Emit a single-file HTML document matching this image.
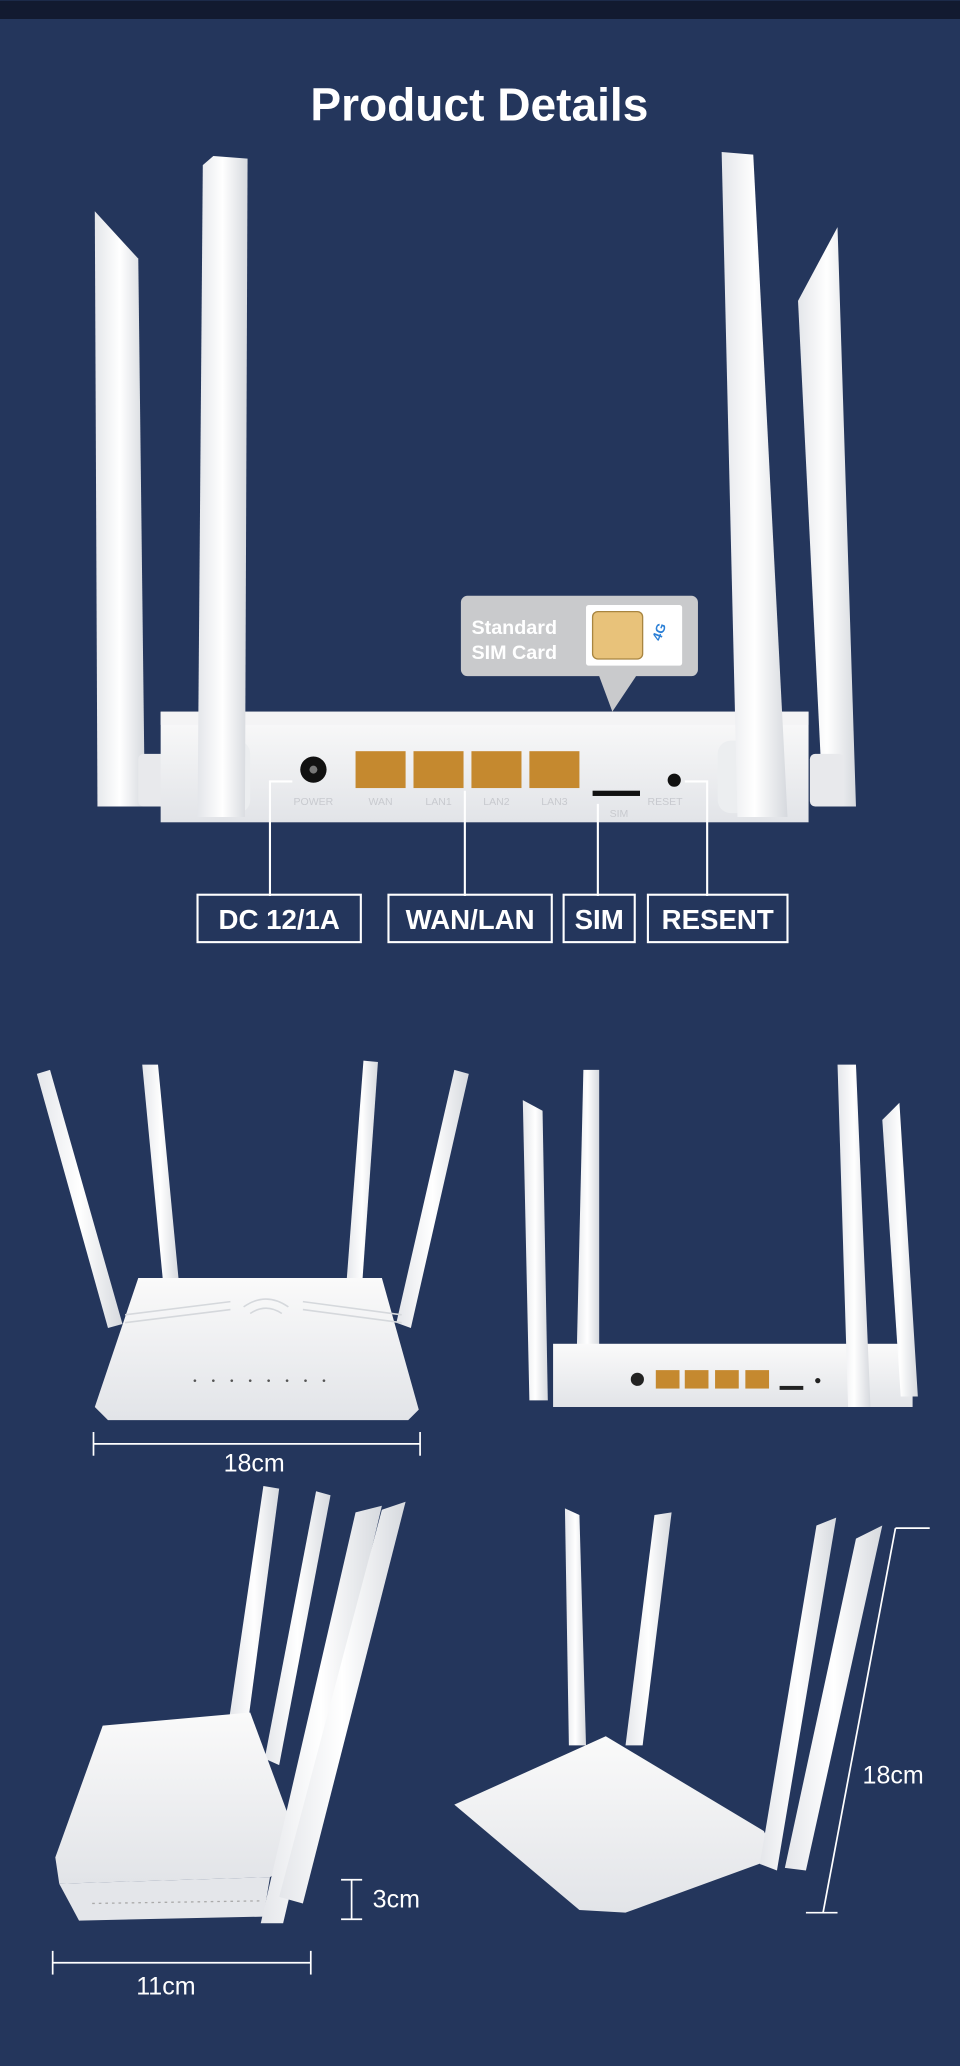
<!DOCTYPE html>
<html><head><meta charset="utf-8"><style>
html,body{margin:0;padding:0;background:#24365c;}
svg{display:block;}
text{font-family:"Liberation Sans",sans-serif;}
</style></head><body>
<svg width="960" height="2066" viewBox="0 0 729 1568" xmlns="http://www.w3.org/2000/svg">
<defs>
<linearGradient id="ant" x1="0" x2="1"><stop offset="0" stop-color="#e4e6ea"/><stop offset="0.5" stop-color="#ffffff"/><stop offset="1" stop-color="#d6d9de"/></linearGradient>
<linearGradient id="body" x1="0" y1="0" x2="0" y2="1"><stop offset="0" stop-color="#fafafa"/><stop offset="1" stop-color="#e2e4e8"/></linearGradient>
</defs>
<rect width="729" height="1568" fill="#24365c"/>
<rect width="729" height="14" fill="#121a30"/>
<text x="364" y="91" text-anchor="middle" font-size="35" font-weight="bold" fill="#fff">Product Details</text>

<!-- top router -->
<g>
<polygon points="72,160 105,196 110,612 74,612" fill="url(#ant)"/>
<rect x="105" y="572" width="24" height="40" rx="4" fill="#e8e9ec"/>
<rect x="122" y="540" width="492" height="84" fill="url(#body)"/>
<rect x="122" y="540" width="492" height="10" fill="#f4f4f5"/>
<rect x="160" y="562" width="30" height="55" rx="10" fill="#eceef0"/>
<rect x="545" y="562" width="30" height="55" rx="10" fill="#eceef0"/>
<polygon points="162,118 188,120 186,620 150,620 154,125" fill="url(#ant)"/>
<polygon points="606,228 636,172 650,612 625,612" fill="url(#ant)"/>
<rect x="615" y="572" width="26" height="40" rx="4" fill="#e8e9ec"/>
<polygon points="548,115 572,117 598,620 560,620" fill="url(#ant)"/>
<circle cx="238" cy="584" r="10" fill="#111"/>
<circle cx="238" cy="584" r="3" fill="#777"/>
<g fill="#c5892f"><rect x="270" y="570" width="38" height="28"/><rect x="314" y="570" width="38" height="28"/><rect x="358" y="570" width="38" height="28"/><rect x="402" y="570" width="38" height="28"/></g>
<g font-size="8" fill="#c8cacf" text-anchor="middle"><text x="238" y="611">POWER</text><text x="289" y="611">WAN</text><text x="333" y="611">LAN1</text><text x="377" y="611">LAN2</text><text x="421" y="611">LAN3</text><text x="505" y="611">RESET</text><text x="470" y="620">SIM</text></g>
<rect x="450" y="600" width="36" height="4" fill="#111"/>
<circle cx="512" cy="592" r="5" fill="#111"/>
<!-- callout -->
<path d="M355,452 H525 a5,5 0 0 1 5,5 V508 a5,5 0 0 1 -5,5 H483 L465,540 L455,513 H355 a5,5 0 0 1 -5,-5 V457 a5,5 0 0 1 5,-5 Z" fill="#c9cacc"/>
<text x="358" y="481" font-size="15" font-weight="bold" fill="#fff">Standard</text>
<text x="358" y="500" font-size="15" font-weight="bold" fill="#fff">SIM Card</text>
<rect x="445" y="459" width="73" height="46" fill="#fff" rx="2"/>
<rect x="450" y="464" width="38" height="36" rx="4" fill="#e8c27a" stroke="#a88540"/>
<text x="496" y="485" font-size="10" font-weight="bold" fill="#2a7fd6" transform="rotate(-70 500 482)">4G</text>
<!-- connectors -->
<g stroke="#fff" stroke-width="1.6" fill="none">
<polyline points="222,593 205,593 205,680"/>
<line x1="353" y1="600" x2="353" y2="680"/>
<line x1="454" y1="610" x2="454" y2="680"/>
<polyline points="520,593 537,593 537,680"/>
<rect x="150" y="679" width="124" height="36"/>
<rect x="295" y="679" width="124" height="36"/>
<rect x="428" y="679" width="54" height="36"/>
<rect x="492" y="679" width="106" height="36"/>
</g>
<g font-size="21" font-weight="bold" fill="#fff" text-anchor="middle">
<text x="212" y="705">DC 12/1A</text><text x="357" y="705">WAN/LAN</text><text x="455" y="705">SIM</text><text x="545" y="705">RESENT</text>
</g>
</g>

<!-- front router (mid left) -->
<g>
<polygon points="28,815 38,812 93,1005 82,1008" fill="url(#ant)"/>
<polygon points="108,808 120,808 136,975 124,975" fill="url(#ant)"/>
<polygon points="276,805 287,806 275,975 263,975" fill="url(#ant)"/>
<polygon points="345,812 356,815 312,1008 301,1004" fill="url(#ant)"/>
<polygon points="105,970 290,970 318,1070 310,1078 82,1078 72,1068" fill="url(#body)"/>
<g stroke="#d5d8dc" fill="none" stroke-width="1.2"><line x1="95" y1="998" x2="175" y2="988"/><line x1="95" y1="1004" x2="175" y2="994"/><line x1="230" y1="988" x2="305" y2="998"/><line x1="230" y1="994" x2="305" y2="1004"/><path d="M185,992 q17,-12 34,0 M190,997 q12,-8 24,0"/></g>
<g fill="#555"><circle cx="148" cy="1048" r="1"/><circle cx="162" cy="1048" r="1"/><circle cx="176" cy="1048" r="1"/><circle cx="190" cy="1048" r="1"/><circle cx="204" cy="1048" r="1"/><circle cx="218" cy="1048" r="1"/><circle cx="232" cy="1048" r="1"/><circle cx="246" cy="1048" r="1"/></g>
<g stroke="#fff" stroke-width="1.3"><line x1="71" y1="1096" x2="319" y2="1096"/><line x1="71" y1="1087" x2="71" y2="1105"/><line x1="319" y1="1087" x2="319" y2="1105"/></g>
<text x="193" y="1117" font-size="19" fill="#fff" text-anchor="middle">18cm</text>
</g>

<!-- back router (mid right) -->
<g>
<polygon points="397,835 412,843 416,1063 402,1063" fill="url(#ant)"/>
<polygon points="443,812 455,812 455,1068 437,1068" fill="url(#ant)"/>
<rect x="420" y="1020" width="273" height="48" fill="url(#body)"/>
<polygon points="636,808 650,808 661,1068 644,1068" fill="url(#ant)"/>
<polygon points="670,850 683,837 697,1060 684,1060" fill="url(#ant)"/>
<circle cx="484" cy="1047" r="5" fill="#222"/>
<g fill="#c5892f"><rect x="498" y="1040" width="18" height="14"/><rect x="520" y="1040" width="18" height="14"/><rect x="543" y="1040" width="18" height="14"/><rect x="566" y="1040" width="18" height="14"/></g>
<rect x="592" y="1052" width="18" height="3" fill="#222"/>
<circle cx="621" cy="1048" r="2" fill="#222"/>
</g>

<!-- bottom left -->
<g>
<polygon points="200,1128 212,1130 188,1310 174,1305" fill="url(#ant)"/>
<polygon points="240,1132 251,1135 212,1340 201,1335" fill="url(#ant)"/>
<polygon points="78,1310 190,1300 230,1408 205,1425 45,1430 42,1410" fill="url(#body)"/>
<polygon points="45,1430 205,1425 200,1455 60,1458" fill="#e4e6ea"/>
<g stroke="#aaa" stroke-width="1"><line x1="70" y1="1445" x2="200" y2="1443" stroke-dasharray="2,3"/></g>
<polygon points="270,1148 290,1143 215,1460 198,1460" fill="url(#ant)"/>
<polygon points="290,1146 308,1140 230,1445 212,1440" fill="url(#ant)"/>
<g stroke="#fff" stroke-width="1.3"><line x1="267" y1="1427" x2="267" y2="1457"/><line x1="259" y1="1427" x2="275" y2="1427"/><line x1="259" y1="1457" x2="275" y2="1457"/>
<line x1="40" y1="1490" x2="236" y2="1490"/><line x1="40" y1="1481" x2="40" y2="1499"/><line x1="236" y1="1481" x2="236" y2="1499"/></g>
<text x="283" y="1448" font-size="19" fill="#fff">3cm</text>
<text x="126" y="1514" font-size="19" fill="#fff" text-anchor="middle">11cm</text>
</g>

<!-- bottom right -->
<g>
<polygon points="429,1145 440,1150 445,1325 432,1325" fill="url(#ant)"/>
<polygon points="497,1150 510,1148 488,1325 475,1325" fill="url(#ant)"/>
<polygon points="345,1370 460,1318 580,1390 590,1410 475,1452 440,1450" fill="url(#body)"/>
<polygon points="620,1158 635,1152 590,1420 577,1415" fill="url(#ant)"/>
<polygon points="650,1168 670,1158 612,1420 596,1418" fill="url(#ant)"/>
<g stroke="#fff" stroke-width="1.3"><line x1="680" y1="1160" x2="625" y2="1452"/><line x1="680" y1="1160" x2="706" y2="1160"/><line x1="612" y1="1452" x2="636" y2="1452"/></g>
<text x="655" y="1354" font-size="19" fill="#fff">18cm</text>
</g>
</svg>
</body></html>
